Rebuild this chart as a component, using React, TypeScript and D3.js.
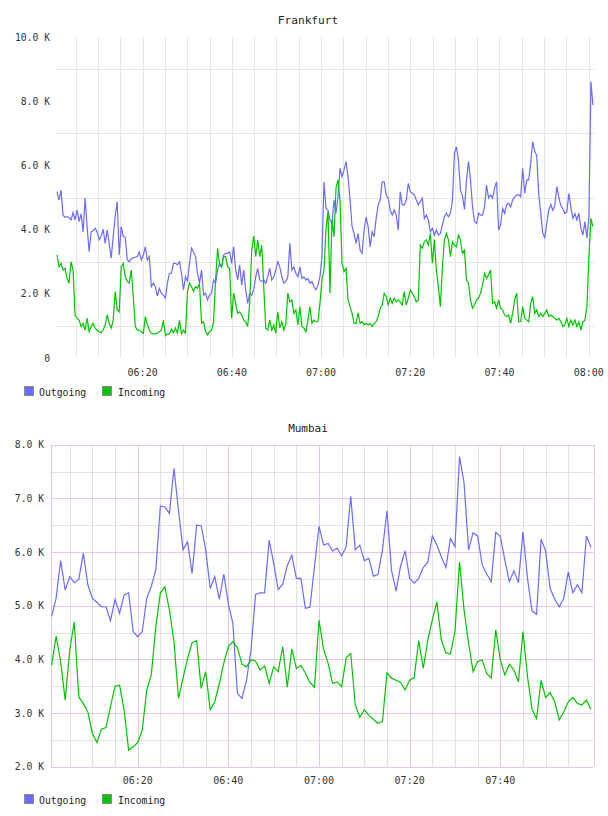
import React from 'react';
import * as d3 from 'd3';

const FONT = '"DejaVu Sans Mono", monospace';
const OUT_COLOR = '#6b6bff';
const IN_COLOR = '#00c400';

// Frankfurt: one sample every 27 s from 06:00:48, values in K
const fraOutgoing = [
  5.18, 4.92, 5.23, 4.45, 4.38, 4.40, 4.38, 4.30, 4.53, 4.30,
  4.61, 4.25, 4.49, 3.93, 4.98, 4.09, 3.31, 3.93, 3.96, 4.04,
  3.93, 3.68, 3.80, 4.01, 3.57, 3.99, 3.57, 3.11, 3.78, 4.42,
  4.87, 3.21, 4.09, 3.80, 3.76, 3.07, 3.00, 3.10, 3.12, 3.14,
  3.16, 3.30, 3.05, 3.21, 3.47, 3.05, 3.16, 2.22, 2.33, 2.22,
  1.93, 2.17, 2.02, 1.96, 1.86, 2.33, 2.64, 2.64, 2.95, 2.95,
  2.90, 3.00, 2.64, 2.12, 2.53, 2.38, 2.95, 3.42, 3.31, 3.16,
  2.64, 2.33, 2.74, 1.96, 2.02, 1.81, 1.96, 2.02, 2.43, 2.33,
  2.74, 2.95, 2.84, 3.21, 3.26, 3.26, 3.31, 2.95, 3.47, 2.74,
  2.43, 2.90, 2.27, 2.74, 2.12, 1.70, 2.02, 1.96, 2.12, 2.53,
  2.79, 2.43, 2.38, 2.43, 2.33, 2.53, 2.79, 2.43, 2.53, 2.74,
  3.00, 2.84, 2.53, 2.33, 2.38, 2.53, 3.57, 2.74, 2.84, 2.64,
  2.53, 2.84, 2.48, 2.53, 2.43, 2.48, 2.33, 2.38, 2.22, 2.12,
  2.27, 2.53, 3.16, 5.49, 4.66, 4.61, 4.30, 4.19, 4.92, 4.51,
  5.02, 5.91, 5.65, 5.86, 6.12, 5.65, 4.92, 4.09, 3.88, 3.57,
  3.88, 3.36, 3.26, 3.99, 4.40, 4.09, 3.47, 3.93, 3.78, 4.35,
  4.77, 4.92, 5.49, 5.49, 5.08, 4.98, 4.61, 4.45, 4.61, 4.45,
  3.99, 5.18, 4.77, 4.77, 4.92, 5.44, 5.18, 5.13, 5.08, 4.92,
  4.77, 4.87, 4.98, 4.35, 4.45, 4.30, 3.93, 4.04, 3.83, 3.99,
  3.83, 3.88, 4.14, 4.40, 4.51, 4.40, 4.51, 4.92, 6.38, 6.58,
  6.17, 5.23, 5.05, 4.63, 5.55, 6.12, 5.55, 4.71, 4.25, 4.19,
  4.51, 4.45, 4.45, 4.71, 5.39, 4.98, 5.08, 4.98, 5.29, 5.49,
  3.99, 4.14, 4.66, 4.51, 4.77, 4.82, 4.71, 4.92, 5.02, 5.08,
  5.08, 5.02, 5.91, 5.13, 5.55, 5.55, 6.07, 6.74, 6.43, 6.30,
  5.10, 4.51, 3.88, 3.75, 4.20, 4.61, 4.78, 4.60, 4.75, 5.34,
  5.00, 4.75, 4.65, 4.50, 4.55, 5.13, 4.70, 4.35, 4.50, 4.30,
  4.51, 4.04, 3.83, 4.25, 3.73, 4.40, 8.61, 7.88,
];

const fraIncoming = [
  3.21, 2.84, 2.95, 2.74, 2.79, 2.48, 2.33, 3.00, 2.74, 1.34,
  1.24, 1.18, 0.98, 1.08, 0.87, 1.24, 0.82, 0.98, 1.08, 0.93,
  0.87, 0.82, 0.79, 0.87, 1.03, 1.34, 1.08, 0.93, 1.18, 2.07,
  1.50, 1.44, 2.84, 2.95, 2.53, 2.38, 2.33, 2.74, 1.91, 0.98,
  0.87, 0.87, 0.82, 0.77, 1.29, 1.03, 0.87, 0.77, 0.75, 0.75,
  0.77, 0.82, 0.87, 1.18, 0.69, 0.75, 0.75, 0.90, 0.79, 0.93,
  0.77, 1.18, 0.75, 0.87, 0.77, 2.07, 2.33, 2.22, 2.07, 2.22,
  2.17, 2.33, 1.08, 1.13, 0.82, 0.72, 0.82, 0.87, 1.13, 2.43,
  3.42, 2.90, 2.84, 3.16, 3.16, 2.84, 2.79, 1.24, 2.02, 1.70,
  1.39, 1.44, 1.34, 1.18, 1.13, 0.98, 1.70, 3.36, 3.80, 3.16,
  3.68, 3.16, 3.52, 2.22, 0.93, 0.87, 1.18, 0.87, 1.03, 0.77,
  1.44, 0.93, 1.13, 0.87, 1.08, 2.02, 1.75, 1.81, 1.39, 1.50,
  1.03, 1.60, 0.98, 0.93, 0.82, 1.18, 1.60, 1.08, 1.18, 1.13,
  1.13, 1.70, 2.43, 2.74, 4.00, 4.56, 2.02, 4.30, 3.78, 5.29,
  5.55, 4.92, 2.95, 2.69, 2.79, 1.81, 1.60, 1.39, 1.08, 1.08,
  1.41, 1.08, 1.13, 1.03, 1.08, 1.03, 1.08, 0.98, 1.08, 1.13,
  1.29, 1.55, 1.65, 2.02, 1.91, 1.65, 1.86, 1.70, 1.86, 1.75,
  1.81, 1.75, 1.65, 2.07, 1.65, 1.86, 2.12, 2.02, 1.91, 1.75,
  1.81, 3.52, 3.42, 3.62, 3.68, 3.52, 3.88, 2.95, 3.68, 2.74,
  2.22, 1.60, 2.84, 3.68, 3.88, 3.68, 3.16, 3.62, 3.52, 3.47,
  3.83, 3.68, 3.26, 3.36, 2.43, 2.33, 1.81, 1.55, 1.65, 1.81,
  1.86, 2.02, 2.27, 2.64, 2.48, 2.59, 2.74, 1.70, 1.75, 1.55,
  1.81, 1.55, 1.50, 1.34, 1.29, 1.34, 1.08, 1.39, 1.81, 2.02,
  1.13, 1.13, 1.60, 1.24, 1.18, 1.13, 1.70, 1.91, 1.39, 1.50,
  1.29, 1.39, 1.29, 1.39, 1.50, 1.29, 1.34, 1.29, 1.24, 1.18,
  1.24, 1.13, 0.98, 1.03, 1.24, 0.98, 1.18, 1.03, 1.18, 0.98,
  1.13, 0.87, 1.13, 1.18, 1.60, 3.16, 4.35, 4.09,
];

// Mumbai: one sample per minute from 06:01 to 08:00, values in K
const mumOutgoing = [
  4.80, 5.14, 5.84, 5.29, 5.54, 5.43, 5.49, 5.98, 5.39, 5.14,
  5.06, 4.98, 4.98, 4.72, 5.12, 4.86, 5.20, 5.24, 4.52, 4.42,
  4.52, 5.14, 5.36, 5.67, 6.86, 6.84, 6.72, 7.56, 6.78, 6.04,
  6.19, 5.60, 6.50, 6.49, 6.04, 5.32, 5.54, 5.12, 5.59, 5.03,
  4.67, 3.37, 3.27, 3.61, 4.17, 5.21, 5.24, 5.24, 6.22, 5.79,
  5.30, 5.40, 5.75, 5.94, 5.51, 5.51, 4.95, 4.97, 5.73, 6.48,
  6.13, 6.16, 6.02, 6.07, 5.93, 6.10, 7.04, 6.04, 6.13, 5.84,
  5.88, 5.55, 5.58, 6.04, 6.77, 5.66, 5.27, 5.74, 6.02, 5.51,
  5.42, 5.51, 5.71, 5.81, 6.30, 6.13, 5.91, 5.71, 6.25, 6.10,
  7.78, 7.29, 6.04, 6.36, 6.30, 5.76, 5.59, 5.45, 6.37, 6.29,
  5.85, 5.45, 5.65, 5.43, 6.37, 5.51, 4.90, 4.84, 6.24, 6.02,
  5.32, 5.12, 4.98, 5.14, 5.63, 5.24, 5.39, 5.24, 6.30, 6.09,
];

const mumIncoming = [
  3.89, 4.43, 3.96, 3.24, 4.17, 4.70, 3.30, 3.18, 3.02, 2.62,
  2.45, 2.70, 2.73, 3.12, 3.50, 3.52, 3.06, 2.31, 2.37, 2.45,
  2.68, 3.43, 3.71, 4.61, 5.24, 5.35, 4.92, 4.33, 3.27, 3.65,
  4.02, 4.31, 4.35, 3.46, 3.77, 3.06, 3.21, 3.55, 3.93, 4.24,
  4.33, 4.22, 3.91, 3.86, 3.99, 3.97, 3.80, 3.88, 3.55, 3.86,
  3.77, 4.24, 3.48, 4.19, 3.83, 3.89, 3.74, 3.57, 3.48, 4.73,
  4.19, 3.93, 3.55, 3.58, 3.49, 4.03, 4.11, 3.15, 2.92, 3.06,
  2.96, 2.88, 2.81, 2.84, 3.75, 3.65, 3.61, 3.57, 3.43, 3.61,
  3.66, 4.35, 3.83, 4.36, 4.73, 5.07, 4.36, 4.12, 4.10, 4.52,
  5.82, 4.92, 4.30, 3.77, 3.96, 3.99, 3.74, 3.65, 4.55, 3.99,
  3.71, 3.91, 3.80, 3.58, 4.52, 3.68, 3.07, 2.90, 3.61, 3.29,
  3.38, 3.21, 2.87, 3.02, 3.21, 3.29, 3.18, 3.15, 3.24, 3.07,
];

const fraYLabels = [0, 2, 4, 6, 8, 10];
const fraYGrid = [1, 3, 5, 7, 9];
const mumYLabels = [2, 3, 4, 5, 6, 7, 8];
const fraTimeLabels = ['06:20', '06:40', '07:00', '07:20', '07:40', '08:00'];
const mumTimeLabels = ['06:20', '06:40', '07:00', '07:20', '07:40'];

const at = (h: number, m: number, s = 0) => new Date(2024, 0, 1, h, m, s);
const parseHM = (hm: string) => {
  const [h, m] = hm.split(':').map(Number);
  return at(h, m);
};
const fmtK = (v: number) => (v === 0 ? '0' : `${v.toFixed(1)} K`);
const crisp = (v: number) => Math.round(v) + 0.5;

type Pt = [Date, number];
const series = (vals: number[], start: Date, stepMs: number): Pt[] =>
  vals.map((v, i) => [new Date(+start + i * stepMs), v]);

function Legend({ y }: { y: number }) {
  return (
    <g fontFamily={FONT} fontSize={9.8} fill="#222">
      <rect x={24.5} y={y - 5.5} width={9} height={9} fill={OUT_COLOR} stroke="#8a8a8a" />
      <text x={39} y={y + 3.5}>Outgoing</text>
      <rect x={102.5} y={y - 5.5} width={9} height={9} fill={IN_COLOR} stroke="#8a8a8a" />
      <text x={118} y={y + 3.5}>Incoming</text>
    </g>
  );
}

function Frankfurt() {
  const left = 57, right = 594, top = 37, bottom = 358;
  const start = at(6, 0, 48);
  const x = d3.scaleTime().domain([start, at(8, 0)]).range([left, 588.7]);
  const y = d3.scaleLinear().domain([0, 10]).range([bottom, top]);
  const line = d3.line<Pt>().x((d) => x(d[0])).y((d) => y(d[1]));
  const vGrid = d3.timeMinute.every(5)!.range(at(6, 1), at(8, 0, 30));

  return (
    <g>
      <text x={308} y={24} textAnchor="middle" fontFamily={FONT} fontSize={11.2} fill="#222">
        Frankfurt
      </text>
      <g stroke="#e6e6e6" strokeWidth={1}>
        {vGrid.map((t) => (
          <line key={+t} x1={crisp(x(t))} x2={crisp(x(t))} y1={top} y2={bottom} />
        ))}
        {fraYGrid.map((v) => (
          <line key={v} x1={left} x2={right} y1={crisp(y(v))} y2={crisp(y(v))} />
        ))}
      </g>
      <g fontFamily={FONT} fontSize={9.7} fill="#333" textAnchor="end">
        {fraYLabels.map((v) => (
          <text key={v} x={50} y={y(v) + 3.5}>{fmtK(v)}</text>
        ))}
      </g>
      <g fontFamily={FONT} fontSize={10} fill="#333" textAnchor="middle">
        {fraTimeLabels.map((s) => (
          <text key={s} x={x(parseHM(s))} y={376}>{s}</text>
        ))}
      </g>
      <path d={line(series(fraOutgoing, start, 27000)) ?? ''} fill="none" stroke={OUT_COLOR} strokeWidth={1.2} />
      <path d={line(series(fraIncoming, start, 27000)) ?? ''} fill="none" stroke={IN_COLOR} strokeWidth={1.2} />
      <Legend y={392} />
    </g>
  );
}

function Mumbai() {
  const left = 50.7, right = 593.5, top = 444.7, bottom = 766.7;
  const x = d3.scaleTime().domain([at(6, 20), at(7, 40)]).range([137.7, 500.3]);
  const y = d3.scaleLinear().domain([2, 8]).range([bottom, top]);
  const line = d3.line<Pt>().x((d) => x(d[0])).y((d) => y(d[1]));
  const vGrid = d3.timeMinute.every(5)!.range(at(6, 1), at(7, 59));
  const hMinor = d3.range(2.5, 8, 1);
  const major = '#e3c9e3';
  const minor = '#e2e2e2';
  const start = at(6, 1);

  return (
    <g>
      <text x={308} y={432} textAnchor="middle" fontFamily={FONT} fontSize={11} fill="#222">
        Mumbai
      </text>
      <g strokeWidth={1}>
        {hMinor.map((v) => (
          <line key={v} stroke={minor} x1={left} x2={right} y1={crisp(y(v))} y2={crisp(y(v))} />
        ))}
        {vGrid.filter((t) => t.getMinutes() % 20 !== 0).map((t) => (
          <line key={+t} stroke={minor} x1={crisp(x(t))} x2={crisp(x(t))} y1={top} y2={bottom} />
        ))}
        {mumYLabels.map((v) => (
          <line key={v} stroke={major} x1={left} x2={right} y1={crisp(y(v))} y2={crisp(y(v))} />
        ))}
        {vGrid.filter((t) => t.getMinutes() % 20 === 0).map((t) => (
          <line key={+t} stroke={major} x1={crisp(x(t))} x2={crisp(x(t))} y1={top} y2={bottom} />
        ))}
        <line stroke={major} x1={crisp(left)} x2={crisp(left)} y1={top} y2={bottom} />
        <line stroke={major} x1={crisp(right)} x2={crisp(right)} y1={top} y2={bottom} />
      </g>
      <g fontFamily={FONT} fontSize={9.7} fill="#333" textAnchor="end">
        {mumYLabels.map((v) => (
          <text key={v} x={44} y={y(v) + 3.5}>{fmtK(v)}</text>
        ))}
      </g>
      <g fontFamily={FONT} fontSize={10} fill="#333" textAnchor="middle">
        {mumTimeLabels.map((s) => (
          <text key={s} x={x(parseHM(s))} y={784}>{s}</text>
        ))}
      </g>
      <path d={line(series(mumOutgoing, start, 60000)) ?? ''} fill="none" stroke={OUT_COLOR} strokeWidth={1.2} />
      <path d={line(series(mumIncoming, start, 60000)) ?? ''} fill="none" stroke={IN_COLOR} strokeWidth={1.2} />
      <Legend y={800} />
    </g>
  );
}

export default function App() {
  return (
    <div style={{ position: 'absolute', left: 0, top: 0, background: '#fff' }}>
      <svg width={608} height={816} viewBox="0 0 608 816" style={{ display: 'block' }}>
        <rect width={608} height={816} fill="#fff" />
        <Frankfurt />
        <Mumbai />
      </svg>
    </div>
  );
}
